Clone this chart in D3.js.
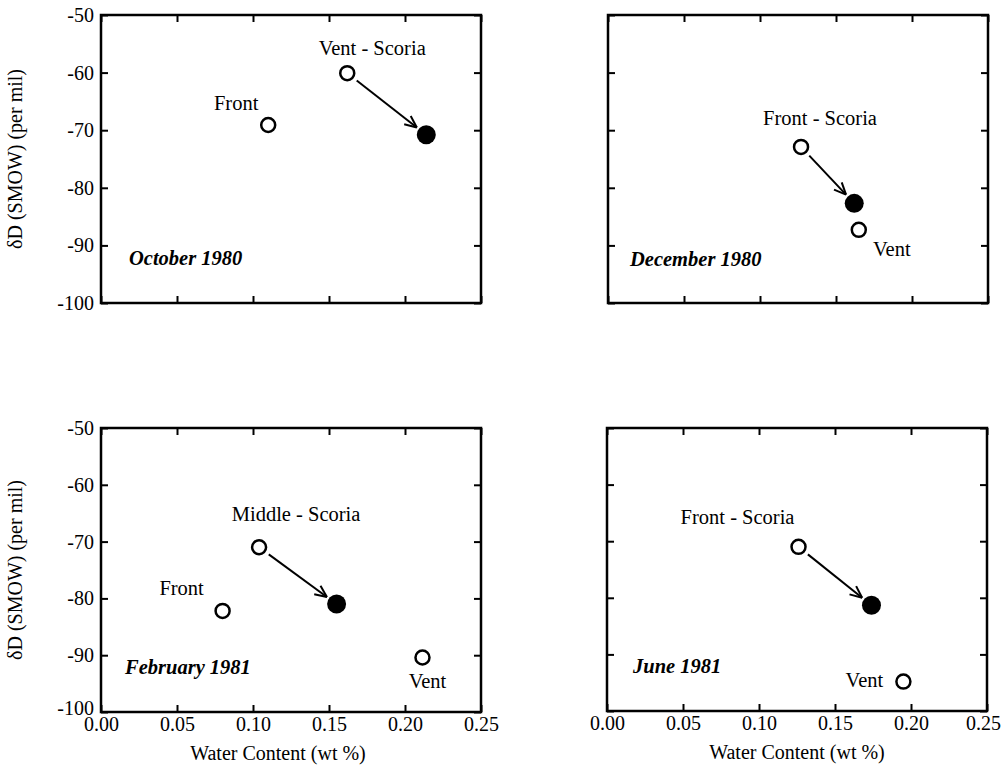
<!DOCTYPE html>
<html>
<head>
<meta charset="utf-8">
<script src="https://cdn.jsdelivr.net/npm/d3@7"></script>
<style>
  body { margin: 0; background: #fff; }
  svg text { font-family: "Liberation Serif", "Times New Roman", Times, serif; fill: #000; }
</style>
</head>
<body>
<svg id="chart" width="1001" height="767"></svg>
<script>
// Axis ticks
const xTicks = [0.00, 0.05, 0.10, 0.15, 0.20, 0.25];
const yTicks = [-50, -60, -70, -80, -90, -100];

// One entry per panel
const panelTitles = ["October 1980", "December 1980", "February 1981", "June 1981"];

// open circles (lava samples)
const openWater = [[0.110, 0.162], [0.127, 0.165], [0.080, 0.104, 0.2115], [0.126, 0.195]];
const openDelta = [[-69.1, -60.1], [-72.9, -87.3], [-82.2, -71.0, -90.4], [-71.0, -94.8]];
const openNames = [["Front", "Vent - Scoria"], ["Front - Scoria", "Vent"], ["Front", "Middle - Scoria", "Vent"], ["Front - Scoria", "Vent"]];

// filled circle (degassed scoria) and which open point the arrow leaves from
const scoriaWater = [0.214, 0.162, 0.155, 0.174];
const scoriaDelta = [-70.8, -82.7, -81.0, -81.3];
const arrowFrom = [1, 0, 1, 0];

// layout: panel frames and label offsets (pixels)
const frames = [
  { x: 101, y: 15, w: 380, h: 288, left: true, bottom: false },
  { x: 608, y: 15, w: 380, h: 288, left: false, bottom: false },
  { x: 101, y: 428, w: 380, h: 284, left: true, bottom: true },
  { x: 607, y: 428, w: 380, h: 283, left: false, bottom: true }
];
const labelOffsets = [
  [[-32, -22], [25, -25]],
  [[19, -29], [33, 19]],
  [[-41, -23], [37, -33], [5, 23]],
  [[-61, -30], [-39, -2]]
];
const titleOffsets = [[28, 243], [22, 244], [24, 239], [26, 238]];

const svg = d3.select("#chart");
const fontSize = 20.5;
const tickFont = 20;

frames.forEach((f, i) => {
  const g = svg.append("g").attr("transform", `translate(${f.x},${f.y})`);

  const x = d3.scaleLinear().domain([0, 0.25]).range([0, f.w]);
  const y = d3.scaleLinear().domain([-100, -50]).range([f.h, 0]);

  // ticks on all four sides, pointing inwards
  const bottomAxis = d3.axisBottom(x).tickValues(xTicks).tickSizeInner(-7).tickSizeOuter(0)
    .tickPadding(5).tickFormat(f.bottom ? d3.format(".2f") : () => "");
  const topAxis = d3.axisTop(x).tickValues(xTicks).tickSizeInner(-7).tickSizeOuter(0).tickFormat(() => "");
  const leftAxis = d3.axisLeft(y).tickValues(yTicks).tickSizeInner(-7).tickSizeOuter(0)
    .tickPadding(7).tickFormat(f.left ? (d => String(d)) : () => "");
  const rightAxis = d3.axisRight(y).tickValues(yTicks).tickSizeInner(-7).tickSizeOuter(0).tickFormat(() => "");

  const axes = [
    g.append("g").attr("transform", `translate(0,${f.h})`).call(bottomAxis),
    g.append("g").call(topAxis),
    g.append("g").call(leftAxis),
    g.append("g").attr("transform", `translate(${f.w},0)`).call(rightAxis)
  ];
  axes.forEach(a => {
    a.attr("font-family", null).attr("font-size", null);
    a.select(".domain").remove();
    a.selectAll("line").attr("stroke", "#000").attr("stroke-width", 2);
    a.selectAll("text").style("font-size", tickFont + "px").attr("fill", "#000");
  });
  // keep the last x label inside the page on the right-hand panels
  if (!f.left) {
    axes[0].selectAll(".tick text").filter(d => d === 0.25).attr("dx", "-4");
  }
  // lift the -100 label a little where the x labels sit beneath it
  if (f.bottom) {
    axes[2].selectAll(".tick text").filter(d => d === -100).attr("dy", "0.1em");
  }

  // frame
  g.append("rect").attr("width", f.w).attr("height", f.h)
    .attr("fill", "none").attr("stroke", "#000").attr("stroke-width", 2.5);

  // arrow from the open sample to the scoria
  const k = arrowFrom[i];
  const x0 = x(openWater[i][k]), y0 = y(openDelta[i][k]);
  const x1 = x(scoriaWater[i]), y1 = y(scoriaDelta[i]);
  const len = Math.hypot(x1 - x0, y1 - y0);
  const ux = (x1 - x0) / len, uy = (y1 - y0) / len;
  const sx = x0 + ux * 12, sy = y0 + uy * 12;
  const ex = x1 - ux * 12, ey = y1 - uy * 12;
  g.append("line").attr("x1", sx).attr("y1", sy).attr("x2", ex).attr("y2", ey)
    .attr("stroke", "#000").attr("stroke-width", 2);
  const ang = Math.atan2(uy, ux);
  [0.42, -0.42].forEach(da => {
    g.append("line").attr("x1", ex).attr("y1", ey)
      .attr("x2", ex - 13 * Math.cos(ang + da)).attr("y2", ey - 13 * Math.sin(ang + da))
      .attr("stroke", "#000").attr("stroke-width", 2);
  });

  // points
  const pts = openWater[i].map((w, j) => ({ w: w, d: openDelta[i][j], name: openNames[i][j], off: labelOffsets[i][j] }));
  g.selectAll(".open").data(pts).enter().append("circle")
    .attr("cx", d => x(d.w)).attr("cy", d => y(d.d)).attr("r", 7)
    .attr("fill", "#fff").attr("stroke", "#000").attr("stroke-width", 2.5);
  g.append("circle").attr("cx", x1).attr("cy", y1).attr("r", 9.5).attr("fill", "#000");

  g.selectAll(".lab").data(pts).enter().append("text")
    .attr("x", d => x(d.w) + d.off[0]).attr("y", d => y(d.d) + d.off[1])
    .attr("dy", "0.35em").attr("text-anchor", "middle")
    .style("font-size", fontSize + "px").text(d => d.name);

  // panel title
  g.append("text").attr("x", titleOffsets[i][0]).attr("y", titleOffsets[i][1]).attr("dy", "0.35em")
    .style("font-size", fontSize + "px").style("font-weight", "bold").style("font-style", "italic")
    .text(panelTitles[i]);

  if (f.left) {
    g.append("text").attr("transform", "rotate(-90)")
      .attr("x", -f.h / 2).attr("y", -86).attr("dy", "0.35em")
      .attr("text-anchor", "middle").style("font-size", "20px")
      .text("δD (SMOW) (per mil)");
  }
  if (f.bottom) {
    g.append("text").attr("x", f.w / 2 - (f.left ? 13 : 0)).attr("y", f.h + 41).attr("dy", "0.35em")
      .attr("text-anchor", "middle").style("font-size", "20px")
      .text("Water Content (wt %)");
  }
});
</script>
</body>
</html>
